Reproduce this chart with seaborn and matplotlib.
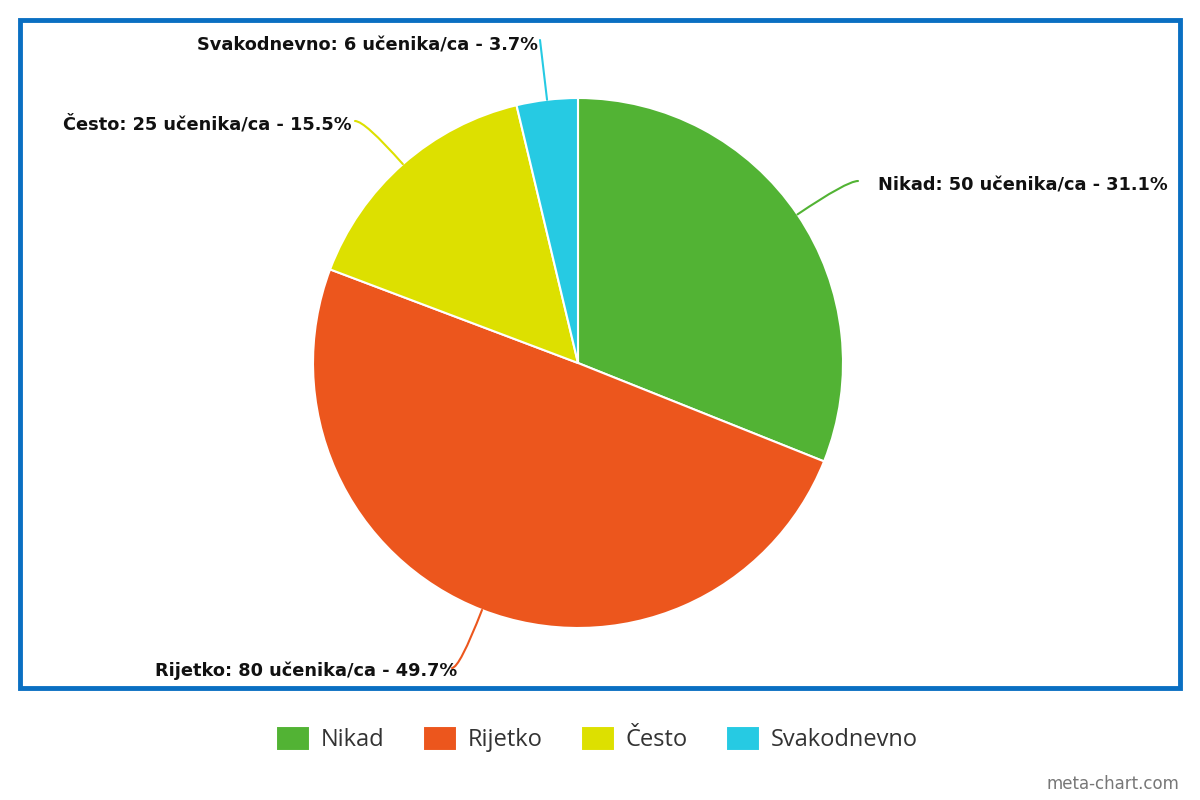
import seaborn as sns
import numpy as np
import matplotlib.pyplot as plt
from matplotlib.patches import Rectangle

categories = ["Nikad", "Rijetko", "Često", "Svakodnevno"]
counts = [50, 80, 25, 6]
percent_labels = ["31.1%", "49.7%", "15.5%", "3.7%"]
colors = ["#52b334", "#ec561d", "#dde000", "#26cae3"]

sns.set_theme(style="white")
plt.rcParams['font.family'] = ['Liberation Sans', 'DejaVu Sans']

W, H = 1200, 800
fig = plt.figure(figsize=(12, 8), dpi=100)

# pie centre (578, 363) px from top, radius 265 px
cx, cy, r = 578, 363, 265
ax = fig.add_axes([(cx - r) / W, (H - cy - r) / H, 2 * r / W, 2 * r / H])
wedges, _ = ax.pie(counts, colors=colors, startangle=90, counterclock=False,
                   radius=1, wedgeprops=dict(edgecolor="white", linewidth=1.5))
ax.set_xlim(-1, 1)
ax.set_ylim(-1, 1)
ax.set_aspect("equal")
ax.axis("off")

# label text anchors (px from top) and leader line ends
label_pos = [(878, 185, "left"), (457, 671, "right"), (352, 124, "right"), (538, 45, "right")]
line_end = [(858, 181), (452, 668), (355, 121), (540, 40)]

for i, w in enumerate(wedges):
    theta = np.deg2rad((w.theta1 + w.theta2) / 2)
    xy = (np.cos(theta), np.sin(theta))
    ex, ey = line_end[i]
    ang = np.rad2deg(theta)
    ax.annotate("", xy=xy, xycoords="data", xytext=(ex, H - ey), textcoords="figure pixels",
                arrowprops=dict(arrowstyle="-", color=colors[i], lw=1.5, shrinkA=0, shrinkB=0,
                                connectionstyle=f"angle3,angleA=0,angleB={ang:.1f}"))
    tx, ty, ha = label_pos[i]
    fig.text(tx / W, (H - ty) / H, f"{categories[i]}: {counts[i]} učenika/ca - {percent_labels[i]}",
             ha=ha, va="center", fontsize=12.8, fontweight="bold", color="#111111",
             family=["DejaVu Sans"])

# blue frame
fig.patches.append(Rectangle((20 / W, (H - 688) / H), 1160 / W, 668 / H, transform=fig.transFigure,
                             fill=False, edgecolor="#0a6fc2", linewidth=3.5))

leg = fig.legend(wedges, categories, loc="center", bbox_to_anchor=(597 / W, (H - 739) / H),
                 ncol=4, frameon=False, handlelength=1.42, handleheight=1.26,
                 handletextpad=0.45, columnspacing=1.65,
                 prop=dict(family=["Open Sans", "DejaVu Sans"], size=17))
for t in leg.get_texts():
    t.set_color("#333333")

fig.text(1179 / W, (H - 784) / H, "meta-chart.com", ha="right", va="center",
         fontsize=12, color="#777777", family=["DejaVu Sans"])

fig.savefig("out.png", dpi=100)
